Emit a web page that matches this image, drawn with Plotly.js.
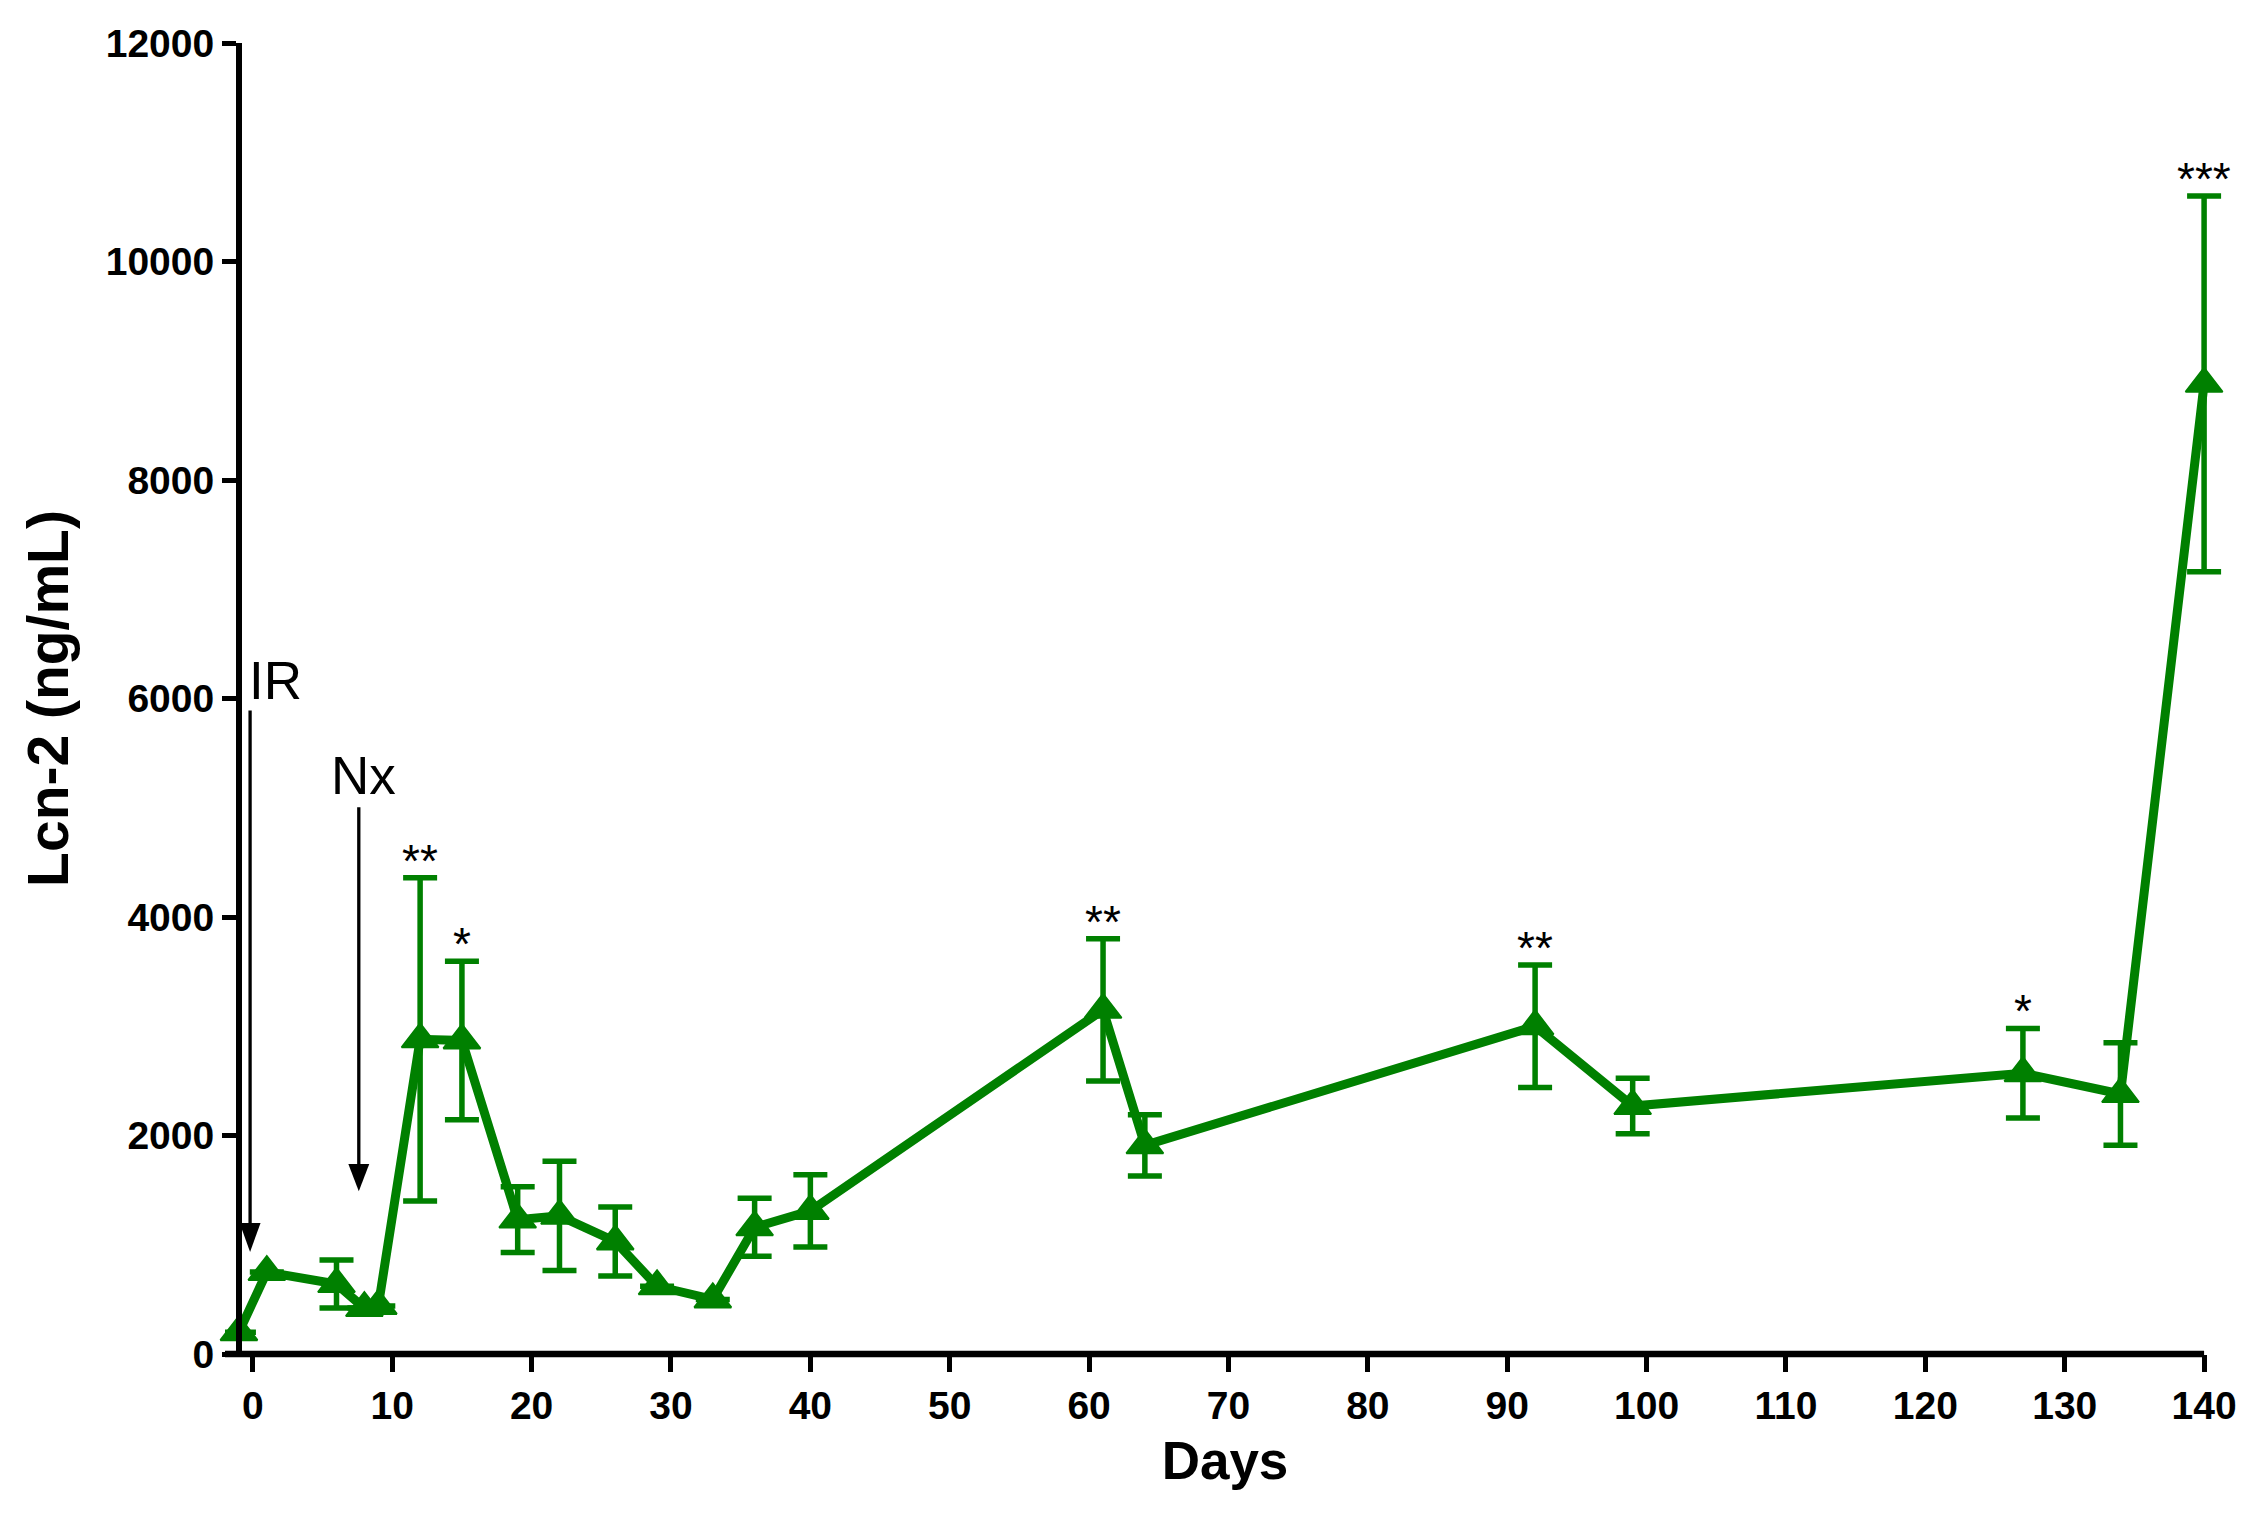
<!DOCTYPE html>
<html>
<head>
<meta charset="utf-8">
<script src="https://cdn.plot.ly/plotly-3.0.1.min.js"></script>
<style>html,body{margin:0;padding:0;background:#fff;}</style>
</head>
<body>
<div id="chart" style="width:2259px;height:1513px;"></div>
<script>
// Data
const days  = [-1, 1, 6, 8, 9, 12, 15, 19, 22, 26, 29, 33, 36, 40, 61, 64, 92, 99, 127, 134, 140];
const lcn2  = [200, 750, 640, 420, 440, 2880, 2870, 1230, 1265, 1030, 620, 500, 1160, 1310, 3150, 1910, 3000, 2270, 2570, 2380, 8880];
const sem   = [null, null, 220, null, null, 1480, 725, 300, 500, 315, null, null, 265, 330, 650, 280, 560, 255, 410, 470, 1720];

const xTicks = [0, 10, 20, 30, 40, 50, 60, 70, 80, 90, 100, 110, 120, 130, 140];
const yTicks = [0, 2000, 4000, 6000, 8000, 10000, 12000];
const xAxisStart = -2, xAxisEnd = 140;

// Significance marks
const starDays   = [12, 15, 61, 92, 127, 140];
const starLabels = ['**', '*', '**', '**', '*', '***'];

// Event arrows (IR, Nx)
const eventLabels = ['IR', 'Nx'];
const eventLabelX = [-0.45, 5.45];
const eventLabelY = [6164, 5291];
const arrowX    = [-0.2, 7.6];
const arrowTop  = [5890, 5004];
const arrowBase = [1200, 1740];
const arrowTip  = [934, 1490];
const headHalf  = 0.75;

const green = '#008000';
const font = 'Arial, "Liberation Sans", sans-serif';

const trace = {
  x: days, y: lcn2, type: 'scatter', mode: 'lines+markers',
  line: {color: green, width: 9},
  marker: {symbol: 'triangle-up', size: 32, color: green, line: {color: green, width: 2}},
  error_y: {type: 'data', array: sem, visible: true, color: green, thickness: 5.5, width: 17},
  cliponaxis: false,
  hoverinfo: 'x+y'
};

const annotations = [];
starDays.forEach((d, i) => {
  const k = days.indexOf(d);
  annotations.push({
    x: d, y: lcn2[k] + (sem[k] || 0), xref: 'x', yref: 'y',
    text: starLabels[i], showarrow: false, xanchor: 'center', yanchor: 'middle',
    yshift: 17, font: {family: font, size: 46, color: '#000'}
  });
});
eventLabels.forEach((t, i) => {
  annotations.push({
    x: eventLabelX[i], y: eventLabelY[i], xref: 'x', yref: 'y', text: t,
    showarrow: false, xanchor: 'left', yanchor: 'middle',
    font: {family: font, size: 53, color: '#000'}
  });
});

const shapes = [];
// x axis line (ends at the last tick, 140); yref paper so it is not clipped vertically
shapes.push({type: 'line', xref: 'x', yref: 'paper', x0: xAxisStart, x1: xAxisEnd, y0: 0, y1: 0,
  line: {color: '#000', width: 6.5}, layer: 'below'});
arrowX.forEach((x, i) => {
  shapes.push({type: 'line', xref: 'x', yref: 'y', x0: x, x1: x, y0: arrowTop[i], y1: arrowBase[i],
    line: {color: '#000', width: 3.3}});
  shapes.push({type: 'path', xref: 'x', yref: 'y',
    path: `M${x - headHalf},${arrowBase[i]} L${x + headHalf},${arrowBase[i]} L${x},${arrowTip[i]} Z`,
    fillcolor: '#000', line: {color: '#000', width: 0}});
});

const layout = {
  width: 2259, height: 1513,
  margin: {l: 225, r: 34, t: 43, b: 159},
  paper_bgcolor: '#fff', plot_bgcolor: '#fff',
  showlegend: false,
  font: {family: font, color: '#000'},
  xaxis: {
    range: [xAxisStart, 141.5], tickvals: xTicks, ticktext: xTicks.map(String),
    showline: false,
    ticks: 'outside', ticklen: 17, tickwidth: 5, tickcolor: '#000',
    tickfont: {family: font, size: 39, weight: 'bold', color: '#000'},
    showgrid: false, zeroline: false,
    title: {text: 'Days', font: {family: font, size: 53, weight: 'bold', color: '#000'}, standoff: 16}
  },
  yaxis: {
    range: [0, 12000], tickvals: yTicks, ticktext: yTicks.map(String),
    anchor: 'free', position: 14 / 2000,
    showline: true, linecolor: '#000', linewidth: 6,
    ticks: 'outside', ticklen: 14, tickwidth: 5, tickcolor: '#000',
    tickfont: {family: font, size: 39, weight: 'bold', color: '#000'},
    showgrid: false, zeroline: false,
    title: {text: 'Lcn-2 (ng/mL)', font: {family: font, size: 57, weight: 'bold', color: '#000'}, standoff: 18}
  },
  annotations: annotations,
  shapes: shapes
};

Plotly.newPlot('chart', [trace], layout, {displayModeBar: false, staticPlot: true});
</script>
</body>
</html>
